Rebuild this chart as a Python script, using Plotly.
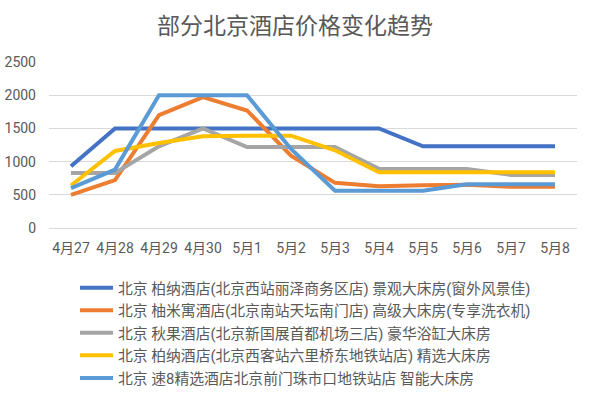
import plotly.graph_objects as go

dates = ['4月27', '4月28', '4月29', '4月30', '5月1', '5月2', '5月3', '5月4', '5月5', '5月6', '5月7', '5月8']
names = [
    '北京 柏纳酒店(北京西站丽泽商务区店) 景观大床房(窗外风景佳)',
    '北京 柚米寓酒店(北京南站天坛南门店) 高级大床房(专享洗衣机)',
    '北京 秋果酒店(北京新国展首都机场三店) 豪华浴缸大床房',
    '北京 柏纳酒店(北京西客站六里桥东地铁站店) 精选大床房',
    '北京 速8精选酒店北京前门珠市口地铁站店 智能大床房',
]
s1 = [930, 1500, 1500, 1500, 1500, 1500, 1500, 1500, 1230, 1230, 1230, 1230]
s2 = [500, 720, 1700, 1970, 1770, 1090, 680, 630, 645, 650, 620, 620]
s3 = [830, 830, 1230, 1500, 1220, 1220, 1220, 890, 890, 890, 800, 800]
s4 = [640, 1160, 1280, 1380, 1390, 1390, 1170, 840, 840, 840, 840, 840]
s5 = [600, 880, 2000, 2000, 2000, 1190, 560, 560, 560, 660, 660, 660]
series = [s1, s2, s3, s4, s5]
colors = ['#4472C4', '#ED7D31', '#A5A5A5', '#FFC000', '#5B9BD5']
title = '部分北京酒店价格变化趋势'
yticks = [0, 500, 1000, 1500, 2000, 2500]

FONT = "Roboto, 'Noto Sans CJK SC', sans-serif"
TXT = '#595959'

W, H = 596, 399
L, T, PW, PH = 49, 61.7, 528, 166

fig = go.Figure()
for i, (nm, vals, c) in enumerate(zip(names, series, colors)):
    fig.add_trace(go.Scatter(
        x=dates, y=vals, name=nm, mode='lines',
        line=dict(color=c, width=4),
        legendgroup=f'g{i}',
    ))

fig.update_layout(
    width=W, height=H,
    margin=dict(l=L, r=W - L - PW, t=T, b=H - T - PH, autoexpand=False),
    paper_bgcolor='white', plot_bgcolor='white',
    font=dict(family=FONT, color=TXT, size=14),
    title=dict(text=title, x=295 / W, xanchor='center', y=1 - 26 / H, yanchor='middle',
               yref='container', font=dict(size=23, color=TXT, family=FONT)),
    showlegend=True,
    legend=dict(
        x=(75 - L) / PW, xanchor='left',
        y=1 - (271.3 - T) / PH, yanchor='top',
        traceorder='grouped', tracegroupgap=0.3, itemwidth=33,
        font=dict(size=14.8, color=TXT, family=FONT),
        bgcolor='rgba(0,0,0,0)', borderwidth=0,
    ),
    xaxis=dict(
        type='category', range=[-0.5, 11.5], showgrid=False, showline=False, zeroline=False,
        ticks='', tickfont=dict(size=14, color=TXT), fixedrange=True, ticklabelstandoff=10,
        automargin=False,
    ),
    yaxis=dict(
        range=[0, 2500], tickvals=yticks, showgrid=True, gridcolor='#D9D9D9', gridwidth=1,
        zeroline=True, zerolinecolor='#D9D9D9', zerolinewidth=1, showline=False,
        ticks='', tickfont=dict(size=14, color=TXT), ticklabelstandoff=12, automargin=False,
    ),
)

fig.write_html('out.html', config={'displayModeBar': False},
               post_script="document.body.style.margin='0';")
